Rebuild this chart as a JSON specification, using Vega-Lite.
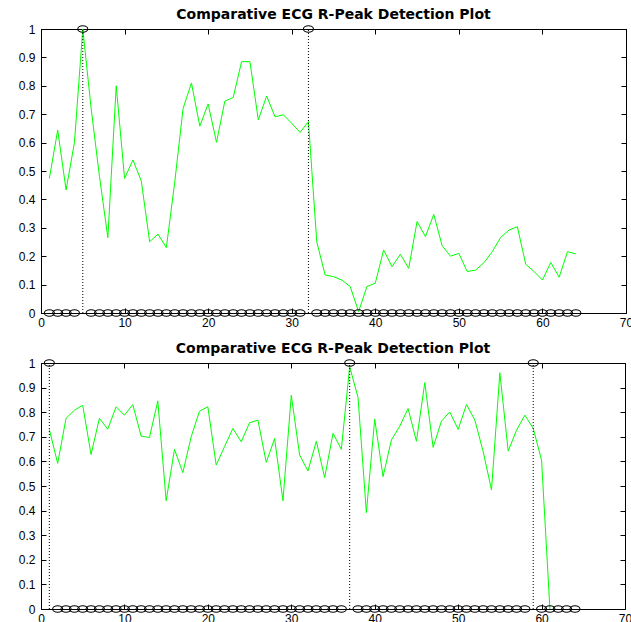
{
  "$schema": "https://vega.github.io/schema/vega-lite/v6.json",
  "background": "white",
  "padding": {"left": 8, "top": 7, "right": 5, "bottom": 0},
  "spacing": 7,
  "bounds": "full",
  "config": {
    "view": {"stroke": "black", "strokeWidth": 1},
    "axis": {"grid": false, "title": null, "domainColor": "black", "tickColor": "black", "labelColor": "black", "labelFont": "Liberation Sans", "labelFontSize": 12, "tickSize": -5, "labelFlush": false, "labelOverlap": false},
    "axisX": {"labelPadding": 9},
    "axisY": {"labelPadding": 11},
    "title": {"font": "DejaVu Sans", "fontSize": 14, "fontWeight": "bold", "color": "black", "anchor": "middle", "offset": 1}
  },
  "datasets": {
    "top": [
      {"x":1,"v":0.474,"m":0},{"x":2,"v":0.644,"m":0},{"x":3,"v":0.433,"m":0},{"x":4,"v":0.6,"m":0},{"x":5,"v":1.0,"m":1},
      {"x":6,"v":0.72,"m":0},{"x":7,"v":0.48,"m":0},{"x":8,"v":0.265,"m":0},{"x":9,"v":0.8,"m":0},{"x":10,"v":0.474,"m":0},
      {"x":11,"v":0.539,"m":0},{"x":12,"v":0.465,"m":0},{"x":13,"v":0.251,"m":0},{"x":14,"v":0.278,"m":0},{"x":15,"v":0.23,"m":0},
      {"x":16,"v":0.46,"m":0},{"x":17,"v":0.72,"m":0},{"x":18,"v":0.81,"m":0},{"x":19,"v":0.658,"m":0},{"x":20,"v":0.736,"m":0},
      {"x":21,"v":0.601,"m":0},{"x":22,"v":0.746,"m":0},{"x":23,"v":0.759,"m":0},{"x":24,"v":0.885,"m":0},{"x":25,"v":0.885,"m":0},
      {"x":26,"v":0.68,"m":0},{"x":27,"v":0.764,"m":0},{"x":28,"v":0.691,"m":0},{"x":29,"v":0.698,"m":0},{"x":30,"v":0.668,"m":0},
      {"x":31,"v":0.636,"m":0},{"x":32,"v":0.674,"m":1},{"x":33,"v":0.25,"m":0},{"x":34,"v":0.134,"m":0},{"x":35,"v":0.128,"m":0},
      {"x":36,"v":0.116,"m":0},{"x":37,"v":0.093,"m":0},{"x":38,"v":0.005,"m":0},{"x":39,"v":0.093,"m":0},{"x":40,"v":0.105,"m":0},
      {"x":41,"v":0.222,"m":0},{"x":42,"v":0.163,"m":0},{"x":43,"v":0.207,"m":0},{"x":44,"v":0.157,"m":0},{"x":45,"v":0.322,"m":0},
      {"x":46,"v":0.269,"m":0},{"x":47,"v":0.347,"m":0},{"x":48,"v":0.237,"m":0},{"x":49,"v":0.2,"m":0},{"x":50,"v":0.21,"m":0},
      {"x":51,"v":0.146,"m":0},{"x":52,"v":0.151,"m":0},{"x":53,"v":0.177,"m":0},{"x":54,"v":0.216,"m":0},{"x":55,"v":0.266,"m":0},
      {"x":56,"v":0.292,"m":0},{"x":57,"v":0.304,"m":0},{"x":58,"v":0.172,"m":0},{"x":59,"v":0.146,"m":0},{"x":60,"v":0.116,"m":0},
      {"x":61,"v":0.178,"m":0},{"x":62,"v":0.126,"m":0},{"x":63,"v":0.216,"m":0},{"x":64,"v":0.208,"m":0}
    ],
    "bot": [
      {"x":1,"v":0.73,"m":1},{"x":2,"v":0.592,"m":0},{"x":3,"v":0.775,"m":0},{"x":4,"v":0.808,"m":0},{"x":5,"v":0.828,"m":0},
      {"x":6,"v":0.628,"m":0},{"x":7,"v":0.775,"m":0},{"x":8,"v":0.731,"m":0},{"x":9,"v":0.822,"m":0},{"x":10,"v":0.788,"m":0},
      {"x":11,"v":0.831,"m":0},{"x":12,"v":0.703,"m":0},{"x":13,"v":0.697,"m":0},{"x":14,"v":0.846,"m":0},{"x":15,"v":0.44,"m":0},
      {"x":16,"v":0.649,"m":0},{"x":17,"v":0.554,"m":0},{"x":18,"v":0.7,"m":0},{"x":19,"v":0.804,"m":0},{"x":20,"v":0.822,"m":0},
      {"x":21,"v":0.585,"m":0},{"x":22,"v":0.66,"m":0},{"x":23,"v":0.734,"m":0},{"x":24,"v":0.68,"m":0},{"x":25,"v":0.757,"m":0},
      {"x":26,"v":0.768,"m":0},{"x":27,"v":0.596,"m":0},{"x":28,"v":0.693,"m":0},{"x":29,"v":0.44,"m":0},{"x":30,"v":0.869,"m":0},
      {"x":31,"v":0.626,"m":0},{"x":32,"v":0.561,"m":0},{"x":33,"v":0.682,"m":0},{"x":34,"v":0.534,"m":0},{"x":35,"v":0.714,"m":0},
      {"x":36,"v":0.649,"m":0},{"x":37,"v":0.985,"m":1},{"x":38,"v":0.86,"m":0},{"x":39,"v":0.392,"m":0},{"x":40,"v":0.772,"m":0},
      {"x":41,"v":0.538,"m":0},{"x":42,"v":0.687,"m":0},{"x":43,"v":0.743,"m":0},{"x":44,"v":0.815,"m":0},{"x":45,"v":0.682,"m":0},
      {"x":46,"v":0.92,"m":0},{"x":47,"v":0.657,"m":0},{"x":48,"v":0.764,"m":0},{"x":49,"v":0.801,"m":0},{"x":50,"v":0.73,"m":0},
      {"x":51,"v":0.831,"m":0},{"x":52,"v":0.768,"m":0},{"x":53,"v":0.64,"m":0},{"x":54,"v":0.484,"m":0},{"x":55,"v":0.96,"m":0},
      {"x":56,"v":0.642,"m":0},{"x":57,"v":0.727,"m":0},{"x":58,"v":0.788,"m":0},{"x":59,"v":0.734,"m":1},{"x":60,"v":0.605,"m":0},
      {"x":61,"v":0.0,"m":0},{"x":62,"v":null,"m":0},{"x":63,"v":null,"m":0},{"x":64,"v":null,"m":0}
    ]
  },
  "vconcat": [
    {
      "width": 585,
      "height": 284,
      "title": {"text": "Comparative ECG R-Peak Detection Plot"},
      "data": {"name": "top"},
      "resolve": {"axis": {"x": "independent", "y": "independent"}},
      "layer": [
        {
          "mark": {"type": "line", "color": "#00ff00", "strokeWidth": 1, "interpolate": "linear"},
          "encoding": {
            "x": {"field": "x", "type": "quantitative", "scale": {"domain": [0, 70], "nice": false},
                  "axis": {"orient": "bottom", "values": [0,10,20,30,40,50,60,70], "minExtent": 20, "maxExtent": 20}},
            "y": {"field": "v", "type": "quantitative", "scale": {"domain": [0, 1], "nice": false},
                  "axis": {"orient": "left", "values": [0,0.1,0.2,0.3,0.4,0.5,0.6,0.7,0.8,0.9,1], "format": ".1~f", "minExtent": 32, "maxExtent": 32}}
          }
        },
        {
          "transform": [{"filter": "datum.m == 1"}],
          "mark": {"type": "rule", "color": "black", "strokeWidth": 1, "strokeDash": [1, 2]},
          "encoding": {
            "x": {"field": "x", "type": "quantitative",
                  "axis": {"orient": "top", "values": [0,10,20,30,40,50,60,70], "labels": false, "minExtent": 0, "maxExtent": 0}},
            "y": {"datum": 0, "type": "quantitative",
                  "axis": {"orient": "right", "values": [0,0.1,0.2,0.3,0.4,0.5,0.6,0.7,0.8,0.9,1], "labels": false, "minExtent": 0, "maxExtent": 0}},
            "y2": {"datum": 1}
          }
        },
        {
          "mark": {"type": "point", "shape": "M-1,0A1,0.66,0,1,1,1,0A1,0.66,0,1,1,-1,0Z", "size": 100, "filled": false, "stroke": "black", "strokeWidth": 1.1, "opacity": 1},
          "encoding": {
            "x": {"field": "x", "type": "quantitative", "axis": null},
            "y": {"field": "m", "type": "quantitative", "axis": null}
          }
        }
      ]
    },
    {
      "width": 584,
      "height": 246,
      "title": {"text": "Comparative ECG R-Peak Detection Plot"},
      "data": {"name": "bot"},
      "resolve": {"axis": {"x": "independent", "y": "independent"}},
      "layer": [
        {
          "mark": {"type": "line", "color": "#00ff00", "strokeWidth": 1, "interpolate": "linear"},
          "encoding": {
            "x": {"field": "x", "type": "quantitative", "scale": {"domain": [0, 70], "nice": false},
                  "axis": {"orient": "bottom", "values": [0,10,20,30,40,50,60,70], "minExtent": 13, "maxExtent": 13}},
            "y": {"field": "v", "type": "quantitative", "scale": {"domain": [0, 1], "nice": false},
                  "axis": {"orient": "left", "values": [0,0.1,0.2,0.3,0.4,0.5,0.6,0.7,0.8,0.9,1], "format": ".1~f", "minExtent": 32, "maxExtent": 32}}
          }
        },
        {
          "transform": [{"filter": "datum.m == 1"}],
          "mark": {"type": "rule", "color": "black", "strokeWidth": 1, "strokeDash": [1, 2]},
          "encoding": {
            "x": {"field": "x", "type": "quantitative",
                  "axis": {"orient": "top", "values": [0,10,20,30,40,50,60,70], "labels": false, "minExtent": 0, "maxExtent": 0}},
            "y": {"datum": 0, "type": "quantitative",
                  "axis": {"orient": "right", "values": [0,0.1,0.2,0.3,0.4,0.5,0.6,0.7,0.8,0.9,1], "labels": false, "minExtent": 0, "maxExtent": 0}},
            "y2": {"datum": 1}
          }
        },
        {
          "mark": {"type": "point", "shape": "M-1,0A1,0.66,0,1,1,1,0A1,0.66,0,1,1,-1,0Z", "size": 100, "filled": false, "stroke": "black", "strokeWidth": 1.1, "opacity": 1},
          "encoding": {
            "x": {"field": "x", "type": "quantitative", "axis": null},
            "y": {"field": "m", "type": "quantitative", "axis": null}
          }
        }
      ]
    }
  ]
}
